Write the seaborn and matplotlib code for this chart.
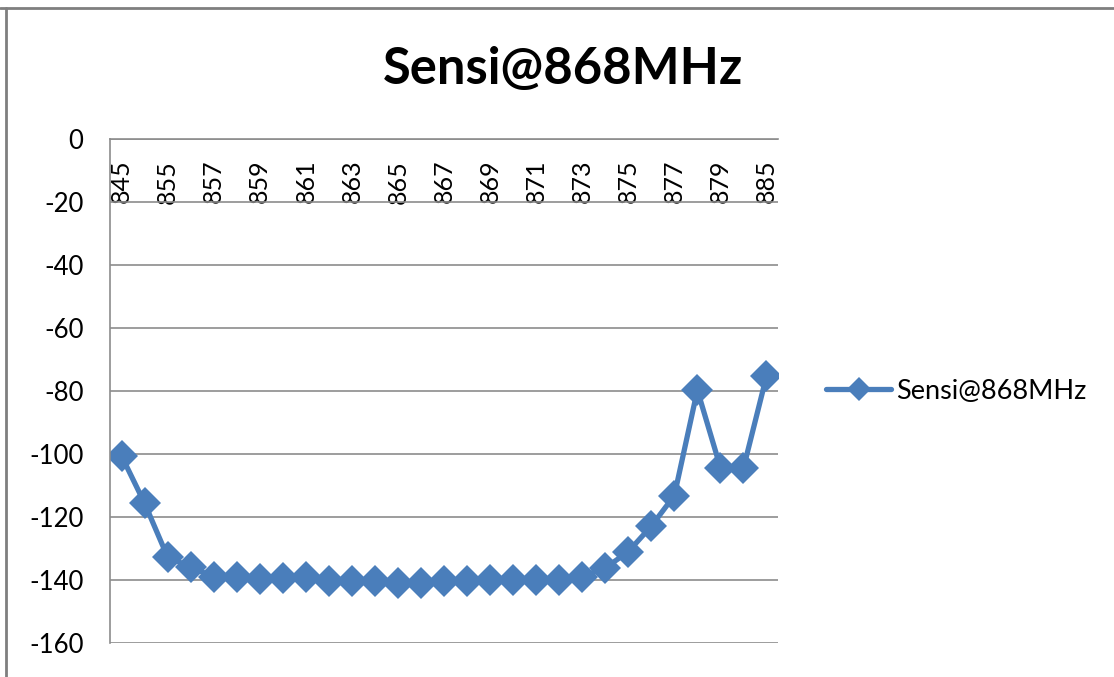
import matplotlib
matplotlib.use("Agg")
import matplotlib.pyplot as plt
from matplotlib.lines import Line2D
import pandas as pd
import seaborn as sns

# Frequency sweep (MHz) and measured sensitivity (dBm)
freqs = [845, 850, 855, 856, 857, 858, 859, 860, 861, 862, 863, 864, 865, 866,
         867, 868, 869, 870, 871, 872, 873, 874, 875, 876, 877, 878, 879, 880, 885]
sensitivity = [-100.6, -115.6, -132.7, -135.9, -139.0, -139.0, -139.6, -139.5, -139.2,
               -140.2, -140.2, -140.2, -141.0, -140.8, -140.4, -140.2, -140.0, -140.0,
               -140.0, -140.0, -138.9, -136.2, -131.0, -122.9, -113.2, -79.7, -104.3,
               -104.5, -75.3]
series_name = "Sensi@868MHz"
y_ticks = [0, -20, -40, -60, -80, -100, -120, -140, -160]

blue = "#4A7EBB"
grid_gray = "#8C8C8C"

sns.set_style("white")
plt.rcParams["font.family"] = ["Lato", "DejaVu Sans"]
plt.rcParams["text.color"] = "#000000"

df = pd.DataFrame({"freq": [str(f) for f in freqs], "sens": sensitivity,
                   "series": series_name})

fig = plt.figure(figsize=(11.14, 6.77), dpi=100)
ax = fig.add_axes([110 / 1114, 34 / 677, 668 / 1114, 504 / 677])

sns.lineplot(data=df, x="freq", y="sens", hue="series", palette=[blue],
             marker="D", markersize=16, markeredgewidth=0, linewidth=3.8,
             sort=False, ax=ax, legend=True)

n = len(freqs)
ax.set_xlim(-0.5, n - 0.5)
ax.set_ylim(-160, 0)
ax.set_xlabel("")
ax.set_ylabel("")

# Horizontal gridlines
ax.set_yticks(y_ticks)
ax.set_yticklabels([str(v) for v in y_ticks])
ax.grid(axis="y", color=grid_gray, linewidth=1.2)
ax.grid(axis="x", visible=False)
ax.set_axisbelow(True)

# Category axis sits at y = 0 (top of plot area); tick marks between categories
ax.spines["bottom"].set_position(("data", 0))
ax.spines["top"].set_visible(False)
ax.spines["right"].set_visible(False)
for s in ("bottom", "left"):
    ax.spines[s].set_color(grid_gray)
    ax.spines[s].set_linewidth(1.2)

ax.set_xticks([i - 0.5 for i in range(n + 1)])
ax.set_xticklabels([])
ax.set_xticks(list(range(0, n, 2)), minor=True)
ax.set_xticklabels([str(freqs[i]) for i in range(0, n, 2)], minor=True,
                   rotation=90)
ax.tick_params(axis="x", which="major", direction="out", length=7.5,
               width=1.2, color=grid_gray)
ax.tick_params(axis="x", which="minor", length=0, pad=15, labelsize=18,
               labelcolor="#000000")
ax.tick_params(axis="y", direction="out", length=6, width=1.2,
               color=grid_gray, pad=13, labelsize=18.5, labelcolor="#000000")

fig.suptitle(series_name, x=563 / 1114, y=1 - 70 / 677, va="center",
             fontsize=36.5, fontweight="bold", color="#000000")

leg = ax.legend(loc="center left", bbox_to_anchor=(826 / 1114, 1 - 391 / 677),
                bbox_transform=fig.transFigure, frameon=False, fontsize=19.5,
                handlelength=2.4, handletextpad=0.2, borderpad=0,
                borderaxespad=0)
for t in leg.get_texts():
    t.set_color("#000000")
for h in leg.legend_handles:
    h.set_markersize(12)

# Chart-area border (top and left edges)
fig.add_artist(Line2D([0, 1], [1 - 8 / 677, 1 - 8 / 677], color="#7F7F7F",
                      linewidth=2, transform=fig.transFigure))
fig.add_artist(Line2D([6 / 1114, 6 / 1114], [0, 1 - 8 / 677], color="#7F7F7F",
                      linewidth=2, transform=fig.transFigure))

fig.savefig("out.png", dpi=100)
